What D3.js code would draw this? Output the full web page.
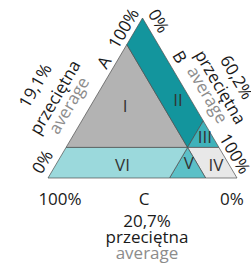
<!DOCTYPE html>
<html>
<head>
<meta charset="utf-8">
<script src="https://cdn.jsdelivr.net/npm/d3@7"></script>
<style>
  body { margin: 0; background: #fff; }
  text { font-family: "Open Sans", sans-serif; }
</style>
</head>
<body>
<svg id="chart"></svg>
<script>
// data
const axisNames = ["A", "B", "C"];
const averageValues = [19.1, 60.2, 20.7];
const drawnAt = [19.1, 64.3, 16.6]; // where the figure actually places the split lines (A, B, C)
const subLabels = ["przeciętna", "average"];
const leftTicks = ["0%", "100%"];
const rightTicks = ["0%", "100%"];
const bottomTicks = ["100%", "0%"];

const regionNames = ["I", "II", "III", "IV", "V", "VI"];
const regionColors = ["#b3b3b3", "#13959d", "#3fb2ba", "#e8e8e8", "#5cc0c7", "#9bd9dc"];
const regionLabelA = [44.7, 48.8, 25.9, 8.1, 9.1, 7.8];
const regionLabelB = [18.4, 44.4, 70.1, 84.8, 70.0, 35.5];

const width = 251, height = 265;
const svg = d3.select("#chart").attr("width", width).attr("height", height);

// ternary projection: A = height above base, B = share toward bottom-right corner
const x = d3.scaleLinear().domain([0, 100]).range([48, 237]);
const y = d3.scaleLinear().domain([0, 100]).range([178, 18]);
function pt(a, b) { return [x(b + a / 2), y(a)]; }

const [a0, b0, c0] = drawnAt;
const P = [a0, b0], LA = [a0, 0], RA = [a0, 100 - a0], LC = [100 - c0, 0];
const BC = [0, 100 - c0], RB = [100 - b0, b0], BB = [0, b0];
const TOP = [100, 0], BL = [0, 0], BR = [0, 100];
const polys = [
  [LC, P, LA],
  [TOP, LC, P, RB],
  [RB, P, RA],
  [P, BC, BR, RA],
  [P, BB, BC],
  [LA, P, BB, BL]
];

svg.selectAll("path.region")
  .data(polys)
  .join("path")
  .attr("class", "region")
  .attr("d", d => d3.line()(d.map(p => pt(p[0], p[1]))) + "Z")
  .style("fill", (d, i) => regionColors[i])
  .style("stroke", "#4d4d4d")
  .style("stroke-width", 0.7)
  .style("stroke-linejoin", "round");

svg.selectAll("text.region")
  .data(regionNames)
  .join("text")
  .attr("class", "region")
  .attr("x", (d, i) => pt(regionLabelA[i], regionLabelB[i])[0])
  .attr("y", (d, i) => pt(regionLabelA[i], regionLabelB[i])[1])
  .attr("dy", "0.35em")
  .attr("text-anchor", "middle")
  .style("font-size", "17px")
  .style("fill", "#333")
  .text(d => d);

// text along a side: start/end points of the side, position (A value), outward offset
function sideText(p0, p1, at, perp, label, color) {
  const dx = p1[0] - p0[0], dy = p1[1] - p0[1];
  const len = Math.hypot(dx, dy);
  const ux = dx / len, uy = dy / len;
  const nx = uy, ny = -ux;
  const angle = Math.atan2(dy, dx) * 180 / Math.PI;
  const px = at[0] + nx * perp, py = at[1] + ny * perp;
  svg.append("text")
    .attr("transform", `translate(${px},${py}) rotate(${angle})`)
    .attr("dy", "0.35em")
    .attr("text-anchor", "middle")
    .style("font-size", "17px")
    .style("fill", color || "#1a1a1a")
    .text(label);
}

const fmt = v => String(v).replace(".", ",") + "%";

// left side (A)
const L0 = pt(0, 0), L1 = pt(100, 0);
sideText(L0, L1, pt(6, 0), 13, leftTicks[0]);
sideText(L0, L1, pt(90, 0), 11, leftTicks[1]);
sideText(L0, L1, pt(69, 0), 10.5, axisNames[0]);
sideText(L0, L1, pt(39.3, 0), 58, fmt(averageValues[0]));
sideText(L0, L1, pt(39.3, 0), 35, subLabels[0]);
sideText(L0, L1, pt(39.3, 0), 19, subLabels[1], "#8c8c8c");

// right side (B)
const R0 = pt(100, 0), R1 = pt(0, 100);
sideText(R0, R1, pt(94.2, 5.8), 12.3, rightTicks[0]);
sideText(R0, R1, pt(11.9, 88.1), 10.5, rightTicks[1]);
sideText(R0, R1, pt(71.8, 28.2), 12.2, axisNames[1]);
sideText(R0, R1, pt(46.7, 53.3), 51, fmt(averageValues[1]));
sideText(R0, R1, pt(46.7, 53.3), 32, subLabels[0]);
sideText(R0, R1, pt(46.7, 53.3), 17, subLabels[1], "#8c8c8c");

// base (C)
const base = y(0);
svg.append("text").attr("x", x(0) + 12).attr("y", base + 27)
  .attr("text-anchor", "middle").style("font-size", "17px").style("fill", "#1a1a1a")
  .text(bottomTicks[0]);
svg.append("text").attr("x", x(100) - 5).attr("y", base + 27)
  .attr("text-anchor", "middle").style("font-size", "17px").style("fill", "#1a1a1a")
  .text(bottomTicks[1]);
svg.append("text").attr("x", x(50) + 1.5).attr("y", base + 27)
  .attr("text-anchor", "middle").style("font-size", "17px").style("fill", "#1a1a1a")
  .text(axisNames[2]);

const bottomLines = [fmt(averageValues[2]), subLabels[0], subLabels[1]];
svg.selectAll("text.cavg")
  .data(bottomLines)
  .join("text")
  .attr("class", "cavg")
  .attr("x", x(50) + 4.5)
  .attr("y", (d, i) => base + 49 + i * 16)
  .attr("text-anchor", "middle")
  .style("font-size", "17px")
  .style("fill", (d, i) => i === 2 ? "#8c8c8c" : "#1a1a1a")
  .text(d => d);
</script>
</body>
</html>
